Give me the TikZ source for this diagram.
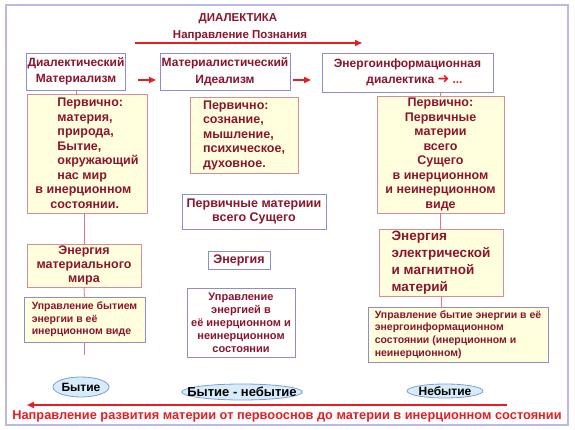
\documentclass[tikz,border=0pt]{standalone}
\usepackage{fontspec}
\setmainfont{Liberation Sans}
\newfontfamily\dejavu{DejaVu Sans}
\usepackage{xcolor}
\usetikzlibrary{positioning, arrows.meta, shapes.geometric}
\definecolor{textred}{RGB}{140,20,45}
\definecolor{boxblue}{RGB}{140,140,215}
\definecolor{boxpink}{RGB}{215,140,155}
\definecolor{paleyellow}{RGB}{255,255,222}
\definecolor{linkpink}{RGB}{225,120,135}
\definecolor{arrred}{RGB}{230,30,35}
\definecolor{framelav}{RGB}{185,185,235}
\definecolor{ellblue}{RGB}{215,235,250}
\definecolor{ellline}{RGB}{120,160,220}

\begin{document}
\begin{tikzpicture}[x=1pt, y=-1pt,
  headbox/.style={rectangle, draw=boxblue, fill=white, line width=0.9pt,
                  align=center, text=textred, inner sep=1pt,
                  font=\fontsize{12}{16.5}\selectfont\bfseries},
  yelbox/.style={rectangle, draw=boxpink, fill=paleyellow, line width=0.8pt,
                 text=textred, inner sep=2pt,
                 font=\fontsize{12.5}{14.5}\selectfont\bfseries},
  whitebox/.style={rectangle, draw=boxblue, fill=white, line width=0.9pt,
                   align=center, text=textred, inner sep=1pt,
                   font=\fontsize{11}{13}\selectfont\bfseries},
  mgmtbox/.style={rectangle, draw=boxblue, fill=paleyellow, line width=0.9pt,
                  align=left, text=textred, inner sep=3pt,
                  font=\fontsize{10.5}{12.6}\selectfont\bfseries},
  state/.style={ellipse, draw=ellline, fill=ellblue, line width=0.8pt,
                inner sep=0pt, font=\fontsize{12}{14}\selectfont\bfseries},
  link/.style={draw=linkpink, line width=0.8pt},
  redarr/.style={draw=arrred, -{Triangle[length=7pt, width=6pt]}, line width=1.6pt}
]
\useasboundingbox (0,0) rectangle (575,430);
\draw[framelav, line width=1.2pt] (6,5) rectangle (568,425);

% title
\node[text=textred, font=\fontsize{11.5}{13}\selectfont\bfseries] (title) at (238,19) {ДИАЛЕКТИКА};
\node[text=textred, font=\fontsize{11.5}{13}\selectfont\bfseries] (cogn) at (240,36) {Направление Познания};
\coordinate (cognA) at (135,43);
\coordinate (cognB) at (362,43);
\draw[redarr] (cognA) -- (cognB);

% upper row
\node[headbox, minimum width=98pt, minimum height=37pt] (mat) at (76,71.5)
  {Диалектический\\Материализм};
\node[headbox, minimum width=130pt, minimum height=37pt] (ideal) at (225,71.5)
  {Материалистический\\Идеализм};
\node[headbox, minimum width=171pt, minimum height=39pt] (energ) at (407.5,72.5)
  {Энергоинформационная\\\hspace*{14pt}диалектика {\dejavu\fontsize{14}{14}\selectfont\color{arrred}➜} \textcolor{arrred}{...}};
\coordinate (arrA1) at (138,80);
\coordinate (arrB1) at (156,80);
\coordinate (arrA2) at (293,80);
\coordinate (arrB2) at (311,80);
\draw[redarr, line width=2pt] (arrA1) -- (arrB1);
\draw[redarr, line width=2pt] (arrA2) -- (arrB2);

% primary
\node[yelbox, align=left, minimum width=120pt, minimum height=119pt] (perv1) at (87,153.5)
  {\hspace*{22pt}Первично:\\\hspace*{22pt}материя,\\\hspace*{22pt}природа,\\\hspace*{22pt}Бытие,\\
   \hspace*{22pt}окружающий\\\hspace*{22pt}нас мир\\в инерционном\\\hspace*{15pt}состоянии.};
\node[yelbox, align=left, minimum width=108pt, minimum height=76pt] (perv2) at (244,135)
  {Первично:\\сознание,\\мышление,\\психическое,\\духовное.};
\node[whitebox, font=\fontsize{12.5}{13.5}\selectfont\bfseries, minimum width=144pt, minimum height=35pt] (pmat) at (254,211.5)
  {Первичные материии\\всего Сущего};
\node[yelbox, align=center, minimum width=127pt, minimum height=117pt] (perv3) at (440.5,154.5)
  {Первично:\\Первичные\\материи\\всего\\Сущего\\в инерционном\\и неинерционном\\виде};

% energy
\node[yelbox, align=center, font=\fontsize{12.5}{13.8}\selectfont\bfseries, minimum width=114pt, minimum height=43pt] (en1) at (84,265.5)
  {Энергия\\материального\\мира};
\node[whitebox, font=\fontsize{12.5}{14}\selectfont\bfseries, minimum width=62pt, minimum height=18pt] (en2) at (239,260.5)
  {Энергия};
\node[yelbox, align=left, font=\fontsize{13.5}{17}\selectfont\bfseries, minimum width=124pt, minimum height=62pt] (en3) at (441,263)
  {Энергия\\электрической\\и магнитной\\материй};

% management
\node[mgmtbox, minimum width=121pt, minimum height=45pt] (upr1) at (84.5,319.5)
  {Управление бытием\\энергии в  её\\инерционном виде};
\node[whitebox, minimum width=108pt, minimum height=69pt] (upr2) at (241,322.5)
  {Управление\\энергией в\\её инерционном и\\неинерционном\\состоянии};
\node[mgmtbox, minimum width=180pt, minimum height=55pt] (upr3) at (458,334.5)
  {Управление бытие энергии в её\\энергоинформационном\\состоянии (инерционном и\\неинерционном)};

% states
\node[state, minimum width=56pt, minimum height=20pt] (be) at (81,387) {Бытие};
\node[state, font=\fontsize{13}{15}\selectfont\bfseries, inner xsep=-12pt, inner ysep=-1.5pt,
      minimum width=118pt, minimum height=16pt] (bnb) at (242,392) {Бытие - небытие};
\node[state, inner xsep=-4pt, inner ysep=-1.5pt, minimum width=76pt, minimum height=14pt] (nb) at (445,391) {Небытие};

% links
\coordinate (stub1) at (84.5,355);
\draw[link] (mat.south) -- (mat.south |- perv1.north);
\draw[link] (en1.north |- perv1.south) -- (en1.north);
\draw[link] (en1.south) -- (upr1.north);
\draw[link] (upr1.south) -- (stub1);
\draw[link] (perv3.north |- energ.south) -- (perv3.north);
\draw[link] (perv3.south) -- (perv3.south |- en3.north);
\draw[link] (en3.south) -- (en3.south |- upr3.north);

% development
\coordinate (devA) at (507,405);
\coordinate (devB) at (27,405);
\draw[redarr, line width=2pt] (devA) -- (devB);
\node[text=arrred, font=\fontsize{12.8}{14}\selectfont\bfseries] (dev) at (287,416)
  {Направление развития материи от первооснов до материи в инерционном состоянии};
\end{tikzpicture}
\end{document}
